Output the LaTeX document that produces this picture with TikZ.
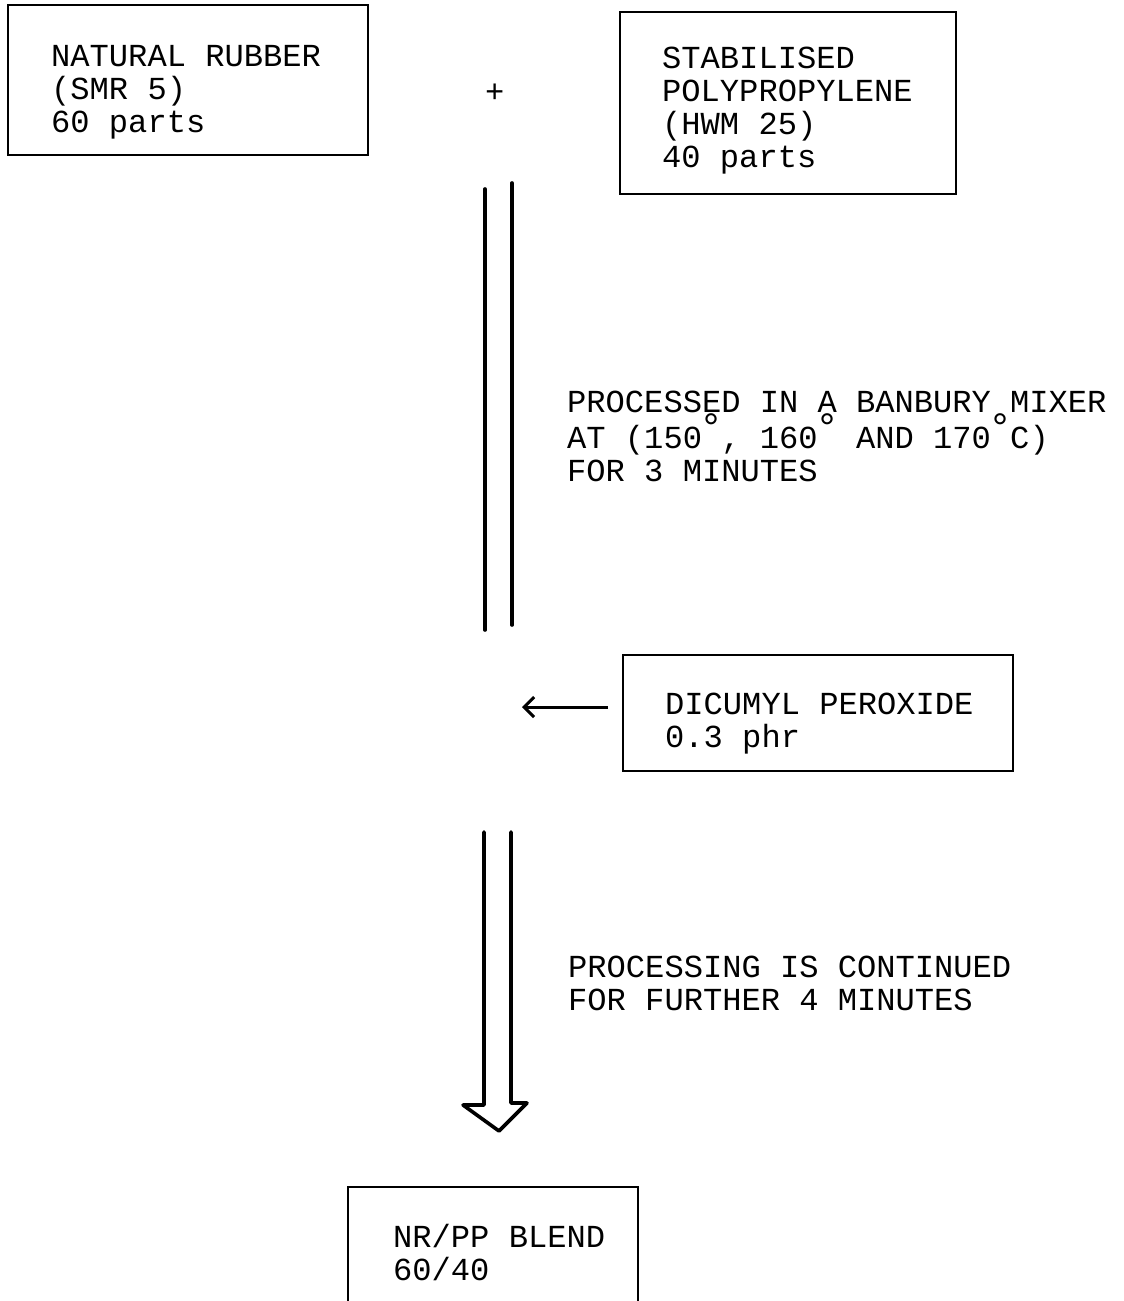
\documentclass[tikz,border=0pt]{standalone}
\usepackage{fontspec}
\usepackage{graphicx}
\newfontfamily\monofnt{Liberation Mono}
\usetikzlibrary{arrows.meta}
\newcommand\degsym{\makebox[0.6em]{\raisebox{7.5pt}{\scalebox{1.25}{°}}}}
\begin{document}
\begin{tikzpicture}[x=1pt,y=-1pt,
  boxnode/.style={draw, line width=1.8pt, inner sep=0pt},
  txt/.style={anchor=base west, align=left, inner sep=0pt, font=\monofnt\fontsize{32.1}{33}\selectfont},
  pipe/.style={line width=3.6pt, line cap=round},
  arr/.style={line width=3pt, -{Straight Barb[length=10pt,width=20pt,line width=3pt]}}]
\useasboundingbox (0,0) rectangle (1124,1301);
\clip (0,0) rectangle (1124,1301);
% boxes
\node[boxnode, minimum width=360pt, minimum height=150pt] (nr) at (188,80) {};
\node[boxnode, minimum width=336pt, minimum height=182pt] (pp) at (788,103) {};
\node[boxnode, minimum width=390pt, minimum height=116pt] (dp) at (818,713) {};
\node[boxnode, minimum width=290pt, minimum height=133pt] (blend) at (493,1253.5) {};
% texts (anchored at the baseline of their last line)
\node[txt] (nrtxt) at (51,132) {NATURAL RUBBER\\(SMR 5)\\60 parts};
\node[txt] (pptxt) at (662,167) {STABILISED\\POLYPROPYLENE\\(HWM 25)\\40 parts};
\node[txt] (plus) at (485,102) {+};
\node[txt] (proc) at (567,481) {PROCESSED IN A BANBURY MIXER\\AT (150\degsym, 160\degsym{} AND 170\degsym C)\\FOR 3 MINUTES};
\node[txt] (dptxt) at (665,747) {DICUMYL PEROXIDE\\0.3 phr};
\node[txt] (cont) at (568,1010) {PROCESSING IS CONTINUED\\FOR FURTHER 4 MINUTES};
\node[txt] (bltxt) at (393,1280) {NR/PP BLEND\\60/40};
% upper double line
\coordinate (ua1) at (485,189); \coordinate (ua2) at (485,630);
\coordinate (ub1) at (512,183); \coordinate (ub2) at (512,625);
\draw[pipe] (ua1) -- (ua2);
\draw[pipe] (ub1) -- (ub2);
% peroxide arrow
\coordinate (arrstart) at (608,707);
\coordinate (arrend) at (522,707);
\draw[arr] (arrstart) -- (arrend);
% lower hollow arrow
\coordinate (la1) at (484,832); \coordinate (la2) at (484,1105);
\coordinate (hl) at (463,1105); \coordinate (tip) at (499,1131);
\coordinate (hr) at (527,1103); \coordinate (lb2) at (511,1103);
\coordinate (lb1) at (511,832);
\draw[pipe, line join=round] (la1) -- (la2) -- (hl) -- (tip) -- (hr) -- (lb2) -- (lb1);
\end{tikzpicture}
\end{document}
